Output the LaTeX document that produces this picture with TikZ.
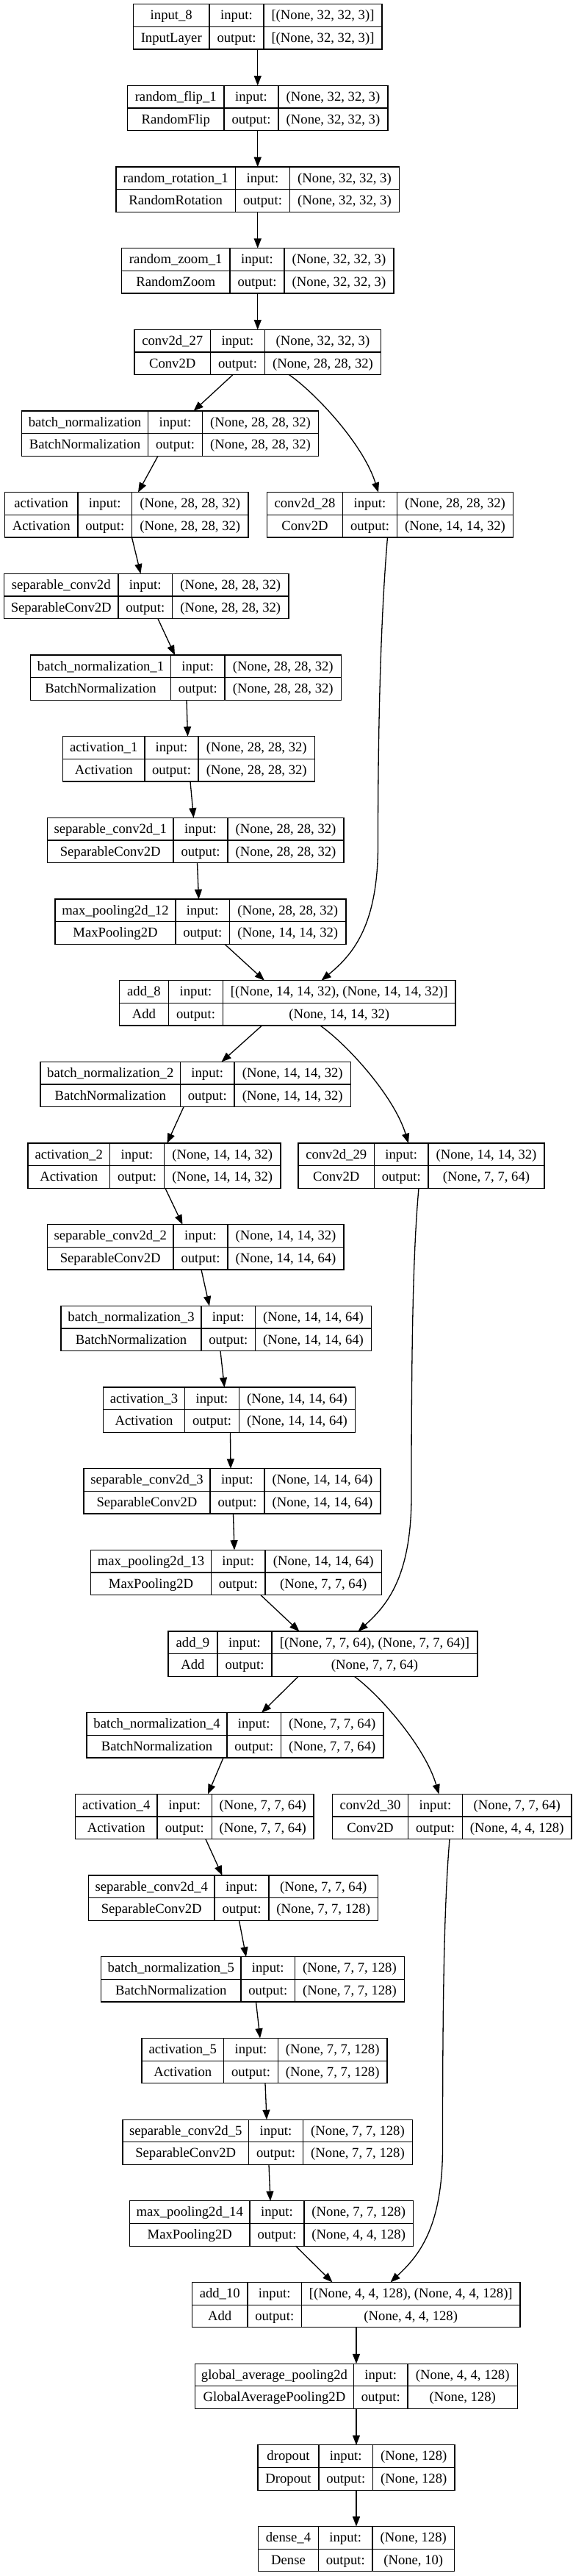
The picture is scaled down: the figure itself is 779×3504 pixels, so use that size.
\documentclass[tikz,border=0pt]{standalone}
\usepackage{fontspec}
\setmainfont{Liberation Serif}
\usetikzlibrary{arrows.meta}
\tikzset{
  box/.style={draw=black, line width=1.3pt, rectangle, inner sep=0pt, outer sep=0pt,
    minimum height=61.33pt, anchor=north west},
  cell/.style={draw=black, line width=1.3pt},
  lab/.style={anchor=base, inner sep=0pt, text=black, font=\fontsize{18.67pt}{22pt}\selectfont},
  conn/.style={draw=black, line width=1.3pt, -{Triangle[length=13.3pt,width=10pt]}},
}
\def\splitx#1/#2/#3/#4\relax{\def\xA{#1}\def\xB{#2}\def\xC{#3}\def\xD{#4}}
\newcommand\layer[7]{%
  \pgfmathsetmacro\yt{5.7+110.67*#2}%
  \splitx#3\relax
  \node[box, minimum width={(\xD-\xA)*1pt}] (#1) at (\xA,\yt) {};
  \draw[cell] (\xB,\yt) -- (\xB,\yt+61.33) (\xC,\yt) -- (\xC,\yt+61.33)
              (\xA,\yt+30.67) -- (\xD,\yt+30.67);
  \node[lab] (#1-n)  at ({(\xA+\xB)/2},\yt+21.1) {#4};
  \node[lab] (#1-c)  at ({(\xA+\xB)/2},\yt+51.8) {#5};
  \node[lab] (#1-i)  at ({(\xB+\xC)/2},\yt+21.1) {input:};
  \node[lab] (#1-o)  at ({(\xB+\xC)/2},\yt+51.8) {output:};
  \node[lab] (#1-is) at ({(\xC+\xD)/2},\yt+21.1) {#6};
  \node[lab] (#1-os) at ({(\xC+\xD)/2},\yt+51.8) {#7};
}
\newcommand\conn[4]{\draw[conn] (#1.south -| #2,0) -- (#3.north -| #4,0);}
\newcommand\fork[4]{%
  \pgfmathsetmacro\dx{#4-#2}%
  \draw[conn] (#1.south -| #2,0) .. controls +({0.3*\dx},25.3) and +({-0.165*\dx},-64.7) .. (#3.north -| #4,0);}
\begin{document}
\begin{tikzpicture}[x=1pt,y=-1pt]
\fill[white] (0,0) rectangle (779,3504);
\useasboundingbox (0,0) rectangle (779,3504);

\layer{in0}{0}{181.5/285/359/520}{input\_8}{InputLayer}{[(None, 32, 32, 3)]}{[(None, 32, 32, 3)]}
\layer{rf}{1}{173.5/305/379/528}{random\_flip\_1}{RandomFlip}{(None, 32, 32, 3)}{(None, 32, 32, 3)}
\layer{rr}{2}{158/320.5/394.5/543.5}{random\_rotation\_1}{RandomRotation}{(None, 32, 32, 3)}{(None, 32, 32, 3)}
\layer{rz}{3}{165.5/313/387/536}{random\_zoom\_1}{RandomZoom}{(None, 32, 32, 3)}{(None, 32, 32, 3)}
\layer{c27}{4}{183/286.5/360.5/518.5}{conv2d\_27}{Conv2D}{(None, 32, 32, 3)}{(None, 28, 28, 32)}
\layer{bn0}{5}{29.5/201.5/275.5/433.5}{batch\_normalization}{BatchNormalization}{(None, 28, 28, 32)}{(None, 28, 28, 32)}
\layer{act0}{6}{6.5/106/179.5/338}{activation}{Activation}{(None, 28, 28, 32)}{(None, 28, 28, 32)}
\layer{c28}{6}{363.5/466.5/540.5/698.5}{conv2d\_28}{Conv2D}{(None, 28, 28, 32)}{(None, 14, 14, 32)}
\layer{sc0}{7}{5.5/161/234.5/393}{separable\_conv2d}{SeparableConv2D}{(None, 28, 28, 32)}{(None, 28, 28, 32)}
\layer{bn1}{8}{41.5/232.5/306/464.5}{batch\_normalization\_1}{BatchNormalization}{(None, 28, 28, 32)}{(None, 28, 28, 32)}
\layer{act1}{9}{85.5/197/270/428.5}{activation\_1}{Activation}{(None, 28, 28, 32)}{(None, 28, 28, 32)}
\layer{sc1}{10}{64.5/236/310/468}{separable\_conv2d\_1}{SeparableConv2D}{(None, 28, 28, 32)}{(None, 28, 28, 32)}
\layer{mp12}{11}{75/239/312.5/471}{max\_pooling2d\_12}{MaxPooling2D}{(None, 28, 28, 32)}{(None, 14, 14, 32)}
\layer{add8}{12}{162.5/229.5/303.5/620}{add\_8}{Add}{[(None, 14, 14, 32), (None, 14, 14, 32)]}{(None, 14, 14, 32)}
\layer{bn2}{13}{55/245.5/319/477.5}{batch\_normalization\_2}{BatchNormalization}{(None, 14, 14, 32)}{(None, 14, 14, 32)}
\layer{act2}{14}{38/149.5/223.5/382}{activation\_2}{Activation}{(None, 14, 14, 32)}{(None, 14, 14, 32)}
\layer{c29}{14}{406/509.5/583/741}{conv2d\_29}{Conv2D}{(None, 14, 14, 32)}{(None, 7, 7, 64)}
\layer{sc2}{15}{64.5/236/310/468}{separable\_conv2d\_2}{SeparableConv2D}{(None, 14, 14, 32)}{(None, 14, 14, 64)}
\layer{bn3}{16}{83/274/347.5/505.5}{batch\_normalization\_3}{BatchNormalization}{(None, 14, 14, 64)}{(None, 14, 14, 64)}
\layer{act3}{17}{140.5/251.5/325.5/483.5}{activation\_3}{Activation}{(None, 14, 14, 64)}{(None, 14, 14, 64)}
\layer{sc3}{18}{114/286/360/518}{separable\_conv2d\_3}{SeparableConv2D}{(None, 14, 14, 64)}{(None, 14, 14, 64)}
\layer{mp13}{19}{123.5/287.5/361/519.5}{max\_pooling2d\_13}{MaxPooling2D}{(None, 14, 14, 64)}{(None, 7, 7, 64)}
\layer{add9}{20}{229/296/370/650}{add\_9}{Add}{[(None, 7, 7, 64), (None, 7, 7, 64)]}{(None, 7, 7, 64)}
\layer{bn4}{21}{118/309/382.5/522}{batch\_normalization\_4}{BatchNormalization}{(None, 7, 7, 64)}{(None, 7, 7, 64)}
\layer{act4}{22}{102.5/214/288.5/427}{activation\_4}{Activation}{(None, 7, 7, 64)}{(None, 7, 7, 64)}
\layer{c30}{22}{452.5/555.5/629.5/778}{conv2d\_30}{Conv2D}{(None, 7, 7, 64)}{(None, 4, 4, 128)}
\layer{sc4}{23}{120.5/292/366/514.5}{separable\_conv2d\_4}{SeparableConv2D}{(None, 7, 7, 64)}{(None, 7, 7, 128)}
\layer{bn5}{24}{137.5/328/401.5/550.5}{batch\_normalization\_5}{BatchNormalization}{(None, 7, 7, 128)}{(None, 7, 7, 128)}
\layer{act5}{25}{193/304.5/378.5/527}{activation\_5}{Activation}{(None, 7, 7, 128)}{(None, 7, 7, 128)}
\layer{sc5}{26}{167/338.5/412.5/561.5}{separable\_conv2d\_5}{SeparableConv2D}{(None, 7, 7, 128)}{(None, 7, 7, 128)}
\layer{mp14}{27}{176.5/340/414/562.5}{max\_pooling2d\_14}{MaxPooling2D}{(None, 7, 7, 128)}{(None, 4, 4, 128)}
\layer{add10}{28}{261.5/337/410.5/708}{add\_10}{Add}{[(None, 4, 4, 128), (None, 4, 4, 128)]}{(None, 4, 4, 128)}
\layer{gap}{29}{265.5/481.5/555/704.5}{global\_average\_pooling2d}{GlobalAveragePooling2D}{(None, 4, 4, 128)}{(None, 128)}
\layer{drop}{30}{351/434/507.5/619}{dropout}{Dropout}{(None, 128)}{(None, 128)}
\layer{dense}{31}{351.5/433.5/507/618.5}{dense\_4}{Dense}{(None, 128)}{(None, 10)}

% main chain
\conn{in0}{350.75}{rf}{350.75}
\conn{rf}{350.75}{rr}{350.75}
\conn{rr}{350.75}{rz}{350.75}
\conn{rz}{350.75}{c27}{350.75}
\conn{c27}{317}{bn0}{263.5}
\fork{c27}{393.5}{c28}{515}
\conn{bn0}{215}{act0}{188}
\conn{act0}{179.5}{sc0}{191.5}
\conn{sc0}{215}{bn1}{238}
\conn{bn1}{254}{act1}{255.5}
\conn{act1}{259}{sc1}{263.5}
\conn{sc1}{268.5}{mp12}{270.5}
\conn{mp12}{306}{add8}{360}
\draw[conn] (c28.south -| 527.5,0) .. controls (520,820) and (514.5,950) .. (514.5,1150)
  .. controls (514.5,1262) and (478,1300) .. (add8.north -| 437.5,0);
\conn{add8}{356.5}{bn2}{301.5}
\fork{add8}{436}{c29}{556}
\conn{bn2}{250}{act2}{227.5}
\conn{act2}{225}{sc2}{248.5}
\conn{sc2}{274}{bn3}{285}
\conn{bn3}{300}{act3}{305.5}
\conn{act3}{313.5}{sc3}{314}
\conn{sc3}{317.5}{mp13}{319}
\conn{mp13}{355}{add9}{407.5}
\draw[conn] (c29.south -| 570,0) .. controls (562,1705) and (560,1835) .. (560,2035)
  .. controls (560,2147) and (525,2185) .. (add9.north -| 487.5,0);
\conn{add9}{406}{bn4}{356}
\fork{add9}{482.5}{c30}{597.5}
\conn{bn4}{304}{act4}{283}
\conn{act4}{280}{sc4}{302.5}
\conn{sc4}{325.5}{bn5}{335}
\conn{bn5}{348.5}{act5}{354}
\conn{act5}{361}{sc5}{363}
\conn{sc5}{366}{mp14}{368}
\conn{mp14}{402.5}{add10}{452.5}
\draw[conn] (c30.south -| 612,0) .. controls (604.5,2591) and (602.5,2721) .. (602.5,2921)
  .. controls (602.5,3033) and (568,3070) .. (add10.north -| 531.5,0);
\conn{add10}{485}{gap}{485}
\conn{gap}{485}{drop}{485}
\conn{drop}{485}{dense}{485}
\end{tikzpicture}
\end{document}
